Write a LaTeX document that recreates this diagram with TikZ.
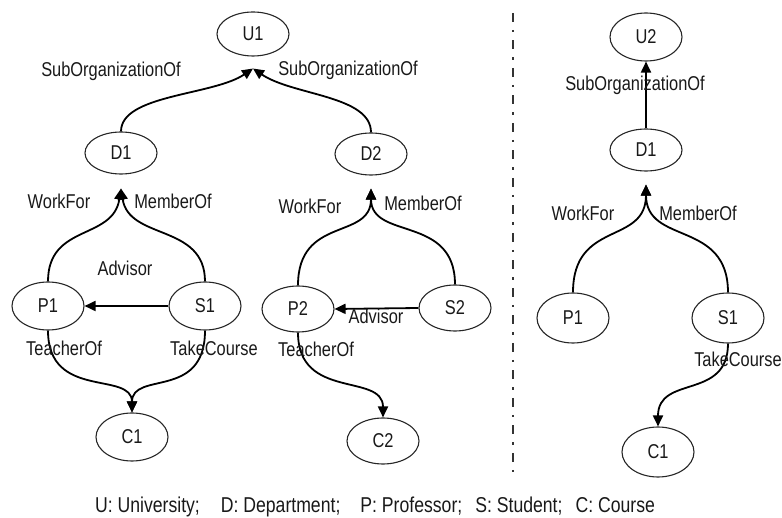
\documentclass[tikz,border=0pt]{standalone}
\usepackage{fontspec}
\setmainfont[FakeStretch=0.82]{Liberation Sans}
\usetikzlibrary{arrows.meta,calc,shapes.geometric}

\begin{document}
\begin{tikzpicture}[x=1pt,y=-1pt,
  ent/.style={draw=black!85,line width=1.1pt,ellipse,minimum width=72pt,
    minimum height=46pt,inner sep=0pt,text=black!90,
    font=\fontsize{20pt}{24pt}\selectfont},
  rel/.style={draw=black,line width=1.8pt,-{Triangle[length=11pt,width=10pt]}},
  lbl/.style={anchor=base,inner sep=0pt,text=black!90,
    font=\fontsize{20pt}{24pt}\selectfont},
  sep/.style={draw=black!80,line width=1.5pt,
    dash pattern=on 9pt off 8pt on 2.5pt off 8pt}]
\useasboundingbox (0,0) rectangle (782,518);

% ---- left graph: two departments of one university
\node[ent,minimum height=44pt] (U1) at (253,34) {U1};
\node[ent,minimum height=42pt] (D1) at (121,153) {D1};
\node[ent,minimum height=42pt] (D2) at (371,154) {D2};
\node[ent,minimum height=48pt] (P1) at (48,306) {P1};
\node[ent,minimum height=48pt] (S1) at (205,306) {S1};
\node[ent,minimum height=48pt] (C1) at (132,437) {C1};
\node[ent] (P2) at (298,309) {P2};
\node[ent] (S2) at (455,308) {S2};
\node[ent] (C2) at (383,441) {C2};

\coordinate (u1in) at ($(U1.south)+(0,12)$);
\coordinate (d1in) at ($(D1.south)+(0,14)$);
\coordinate (d2in) at ($(D2.south)+(0,13)$);

\draw[rel] (D1.north) .. controls +(0,-37) and +(-40,27) .. (u1in);
\draw[rel] (D2.north) .. controls +(0,-37) and +(40,27) .. (u1in);
\draw[rel] (P1.north) .. controls +(0,-58) and +(-8,52) .. (d1in);
\draw[rel] (S1.north) .. controls +(0,-58) and +(8,52) .. (d1in);
\draw[rel] (S1.west) -- (P1.east);
\draw[rel] (P1.south) .. controls +(0,70) and +(0,-42) .. (C1.north);
\draw[rel] (S1.south) .. controls +(0,70) and +(0,-42) .. (C1.north);
\draw[rel] (P2.north) .. controls +(0,-70) and +(0,52) .. (d2in);
\draw[rel] (S2.north) .. controls +(0,-70) and +(0,52) .. (d2in);
\draw[rel] (S2.west) -- (P2.east);
\draw[rel] (P2.south) .. controls +(0,68) and +(0,-45) .. (C2.north);

\node[lbl] (l1) at (111,77) {SubOrganizationOf};
\node[lbl] (l2) at (348,76) {SubOrganizationOf};
\node[lbl] (l3) at (59,209) {WorkFor};
\node[lbl] (l4) at (173,209) {MemberOf};
\node[lbl] (l5) at (310,214) {WorkFor};
\node[lbl] (l6) at (423,211) {MemberOf};
\node[lbl] (l7) at (125,276) {Advisor};
\node[lbl] (l8) at (376,324) {Advisor};
\node[lbl] (l9) at (64,356) {TeacherOf};
\node[lbl] (l10) at (214,356) {TakeCourse};
\node[lbl] (l11) at (316,357) {TeacherOf};

% ---- separator
\coordinate (sepTop) at (513,13);
\coordinate (sepBot) at (513,476);
\draw[sep] (sepTop) -- (sepBot);

% ---- right graph
\node[ent,minimum height=48pt] (U2) at (646,37) {U2};
\node[ent,minimum height=42pt] (D1r) at (646,150) {D1};
\node[ent,minimum height=50pt] (P1r) at (573,318) {P1};
\node[ent,minimum height=50pt] (S1r) at (728,318) {S1};
\node[ent,minimum height=50pt] (C1r) at (658,452) {C1};

\coordinate (d1rin) at ($(D1r.south)+(0,13)$);

\draw[rel] (D1r.north) -- (U2.south);
\draw[rel] (P1r.north) .. controls +(0,-73) and +(0,61) .. (d1rin);
\draw[rel] (S1r.north) .. controls +(0,-73) and +(0,61) .. (d1rin);
\draw[rel] (S1r.south) .. controls +(0,57) and +(0,-52) .. (C1r.north);

\node[lbl] (r1) at (635,91) {SubOrganizationOf};
\node[lbl] (r2) at (583,221) {WorkFor};
\node[lbl] (r3) at (698,221) {MemberOf};
\node[lbl] (r4) at (738,367) {TakeCourse};

% ---- legend
\node[lbl,font=\fontsize{21.5pt}{24pt}\selectfont] (legend) at (375,512)
  {U: University;\hspace{21pt}D: Department;\hspace{20pt}P: Professor;\hspace{13pt}S: Student;\hspace{13pt}C: Course};
\end{tikzpicture}
\end{document}
